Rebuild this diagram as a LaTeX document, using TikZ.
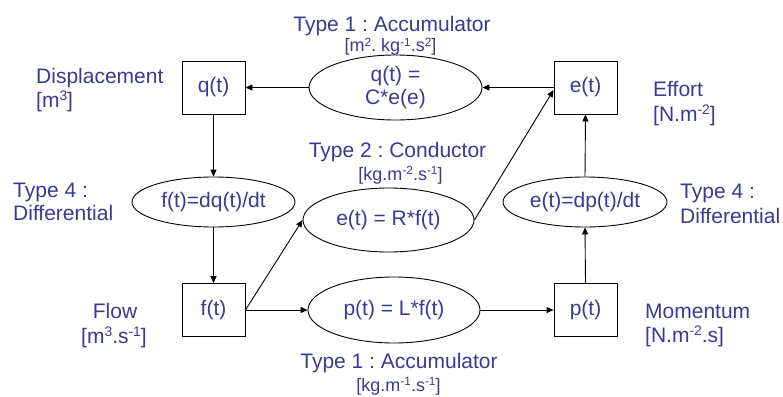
\documentclass[tikz,border=0pt]{standalone}
\usepackage{fontspec}
\usepackage{graphicx}
\setmainfont{Liberation Sans}
\usetikzlibrary{shapes.geometric,arrows.meta}
\definecolor{txt}{RGB}{58,58,145}
\newcommand\spx[1]{\raisebox{0.3em}{\scalebox{0.66}{#1}}}
\frenchspacing
\begin{document}
\begin{tikzpicture}[x=1pt,y=-1pt,
 every node/.style={text=txt, font=\fontsize{21}{23}\selectfont},
 box/.style={draw=black, line width=0.9pt, minimum width=63pt, minimum height=53pt, inner sep=0pt},
 ell/.style={draw=black, ellipse, line width=0.9pt, inner sep=0pt, align=center},
 lbl/.style={inner sep=0pt, anchor=base west},
 ctr/.style={inner sep=0pt, anchor=base},
 unit/.style={inner sep=0pt, anchor=base, font=\fontsize{18}{20}\selectfont},
 arr/.style={-{Triangle[length=7pt,width=6pt]}, line width=0.9pt}]

\useasboundingbox (0,0) rectangle (783,396);

% state boxes
\node[box] (q) at (213.5,87.5) {q(t)};
\node[box] (f) at (213.5,310) {f(t)};
\node[box] (p) at (585.5,310) {p(t)};
\node[box] (e) at (585.5,87.5) {e(t)};

% relation ellipses
\node[ell, minimum width=173pt, minimum height=65pt] (C) at (395.5,87.5) {q(t) =\\C*e(e)};
\node[ell, minimum width=163pt, minimum height=50pt] (dq) at (213.5,202) {f(t)=dq(t)/dt};
\node[ell, minimum width=171pt, minimum height=64pt] (R) at (388.5,220) {e(t) = R*f(t)};
\node[ell, minimum width=172pt, minimum height=66pt] (L) at (394,310) {p(t) = L*f(t)};
\node[ell, minimum width=164pt, minimum height=50pt] (dp) at (585,202) {e(t)=dp(t)/dt};

% connectors
\draw[arr] (e.west) -- (C.east);
\draw[arr] (C.west) -- (q.east);
\draw[arr] (q.south) -- (dq.north);
\draw[arr] (dq.south) -- (f.north);
\draw[arr] (f.east) -- (R.west);
\draw[arr] (R.east) -- ([yshift=-2.5pt]e.west);
\draw[arr] (f.east) -- (L.west);
\draw[arr] (L.east) -- (p.west);
\draw[arr] (p.north) -- (dp.south);
\draw[arr] (dp.north) -- (e.south);

% labels
\node[ctr] (t1) at (392,31) {Type 1 : Accumulator};
\node[unit] (u1) at (390.5,52) {[m\spx{2}. kg\spx{-1}.s\spx{2}]};

\node[lbl] (disp) at (36,83) {Displacement};
\node[lbl] (dispu) at (36,107) {[m\spx{3}]};

\node[lbl] (t4a) at (13,197) {Type 4 :};
\node[lbl] (t4b) at (13,220) {Differential};

\node[ctr] (t2) at (397.5,157) {Type 2 : Conductor};
\node[unit] (u2) at (400.5,180) {[kg.m\spx{-2}.s\spx{-1}]};

\node[ctr] (flow) at (115,318) {Flow};
\node[ctr] (flowu) at (114,343) {[m\spx{3}.s\spx{-1}]};

\node[lbl] (mom) at (645,318) {Momentum};
\node[lbl] (momu) at (645,342) {[N.m\spx{-2}.s]};

\node[ctr] (t1b) at (399,368) {Type 1 : Accumulator};
\node[unit] (u1b) at (398.5,391) {[kg.m\spx{-1}.s\spx{-1}]};

\node[lbl] (eff) at (653,96) {Effort};
\node[lbl] (effu) at (653,121) {[N.m\spx{-2}]};

\node[lbl] (t4c) at (680,198) {Type 4 :};
\node[lbl] (t4d) at (680,223) {Differential};
\end{tikzpicture}
\end{document}
